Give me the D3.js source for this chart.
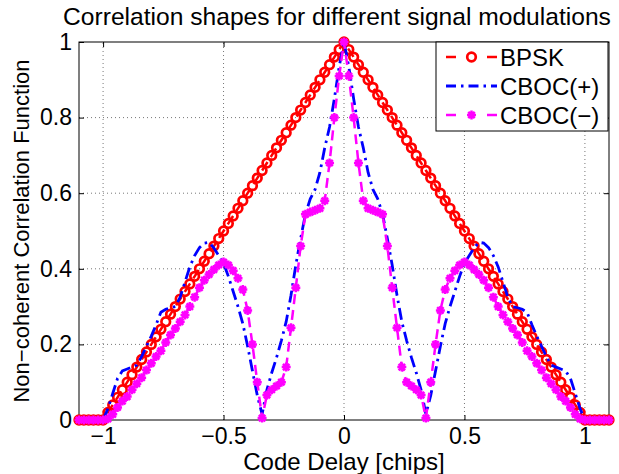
<!DOCTYPE html>
<html>
<head>
<meta charset="utf-8">
<script src="https://cdn.jsdelivr.net/npm/d3@7"></script>
<style>
  body { margin: 0; background: #fff; }
  text { font-family: "Liberation Sans", Arial, Helvetica, sans-serif; }
</style>
</head>
<body>
<div id="chart"></div>
<script>
// code delay in chips
const delay = [
  -1.1,-1.08,-1.06,-1.04,-1.02,-1,-0.98,-0.96,-0.94,-0.92,
  -0.9,-0.88,-0.86,-0.84,-0.82,-0.8,-0.78,-0.76,-0.74,-0.72,
  -0.7,-0.68,-0.66,-0.64,-0.62,-0.6,-0.58,-0.56,-0.54,-0.52,
  -0.5,-0.48,-0.46,-0.44,-0.42,-0.4,-0.38,-0.36,-0.34,-0.32,
  -0.3,-0.28,-0.26,-0.24,-0.22,-0.2,-0.18,-0.16,-0.14,-0.12,
  -0.1,-0.08,-0.06,-0.04,-0.02,0,0.02,0.04,0.06,0.08,
  0.1,0.12,0.14,0.16,0.18,0.2,0.22,0.24,0.26,0.28,
  0.3,0.32,0.34,0.36,0.38,0.4,0.42,0.44,0.46,0.48,
  0.5,0.52,0.54,0.56,0.58,0.6,0.62,0.64,0.66,0.68,
  0.7,0.72,0.74,0.76,0.78,0.8,0.82,0.84,0.86,0.88,
  0.9,0.92,0.94,0.96,0.98,1,1.02,1.04,1.06,1.08,
  1.1
];

const bpsk = [
  0,0,0,0,0,0,0.02,0.04,0.06,0.08,
  0.1,0.12,0.14,0.16,0.18,0.2,0.22,0.24,0.26,0.28,
  0.3,0.32,0.34,0.36,0.38,0.4,0.42,0.44,0.46,0.48,
  0.5,0.52,0.54,0.56,0.58,0.6,0.62,0.64,0.66,0.68,
  0.7,0.72,0.74,0.76,0.78,0.8,0.82,0.84,0.86,0.88,
  0.9,0.92,0.94,0.96,0.98,1,0.98,0.96,0.94,0.92,
  0.9,0.88,0.86,0.84,0.82,0.8,0.78,0.76,0.74,0.72,
  0.7,0.68,0.66,0.64,0.62,0.6,0.58,0.56,0.54,0.52,
  0.5,0.48,0.46,0.44,0.42,0.4,0.38,0.36,0.34,0.32,
  0.3,0.28,0.26,0.24,0.22,0.2,0.18,0.16,0.14,0.12,
  0.1,0.08,0.06,0.04,0.02,0,0,0,0,0,
  0
];

const cbocPlus = [
  0,0,0,0,0,0,0.03,0.07,0.11,0.13,
  0.135,0.14,0.145,0.168,0.195,0.222,0.252,0.285,0.293,0.297,
  0.3,0.325,0.365,0.405,0.435,0.456,0.468,0.47,0.455,0.435,
  0.415,0.38,0.34,0.3,0.255,0.195,0.13,0.065,0.015,0.08,
  0.125,0.165,0.21,0.26,0.33,0.41,0.48,0.545,0.585,0.61,
  0.655,0.72,0.775,0.85,0.935,1,0.935,0.85,0.775,0.72,
  0.655,0.61,0.585,0.545,0.48,0.41,0.33,0.26,0.21,0.165,
  0.125,0.08,0.015,0.065,0.13,0.195,0.255,0.3,0.34,0.38,
  0.415,0.435,0.455,0.47,0.468,0.456,0.435,0.405,0.365,0.325,
  0.3,0.297,0.293,0.285,0.252,0.222,0.195,0.168,0.145,0.14,
  0.135,0.13,0.11,0.07,0.03,0,0,0,0,0,
  0
];

const cbocMinus = [
  0,0,0,0,0,0,0.003,0.015,0.033,0.05,
  0.062,0.08,0.096,0.112,0.132,0.15,0.168,0.183,0.205,0.225,
  0.242,0.26,0.278,0.3,0.325,0.35,0.37,0.385,0.398,0.41,
  0.418,0.41,0.395,0.375,0.345,0.29,0.2,0.1,0.005,0.066,
  0.08,0.09,0.1,0.14,0.244,0.35,0.46,0.544,0.55,0.555,
  0.56,0.58,0.68,0.8,0.91,1,0.91,0.8,0.68,0.58,
  0.56,0.555,0.55,0.544,0.46,0.35,0.244,0.14,0.1,0.09,
  0.08,0.066,0.005,0.1,0.2,0.29,0.345,0.375,0.395,0.41,
  0.418,0.41,0.398,0.385,0.37,0.35,0.325,0.3,0.278,0.26,
  0.242,0.225,0.205,0.183,0.168,0.15,0.132,0.112,0.096,0.08,
  0.062,0.05,0.033,0.015,0.003,0,0,0,0,0,
  0
];

const xTicks = [-1, -0.5, 0, 0.5, 1];
const yTicks = [0, 0.2, 0.4, 0.6, 0.8, 1];
const seriesNames = ['BPSK', 'CBOC(+)', 'CBOC(\u2212)'];

const W = 619, H = 474;
const margin = { top: 42, right: 10, bottom: 54, left: 79 };

const svg = d3.select('#chart').append('svg')
  .attr('width', W)
  .attr('height', H);

const x = d3.scaleLinear().domain([-1.1, 1.1]).range([margin.left, W - margin.right]);
const y = d3.scaleLinear().domain([0, 1]).range([H - margin.bottom, margin.top]);

const fmt = d => d < 0 ? '\u2212' + Math.abs(d) : String(d);

// dotted grid
svg.append('g').selectAll('line')
  .data(xTicks)
  .join('line')
  .attr('x1', d => x(d)).attr('x2', d => x(d))
  .attr('y1', y(0)).attr('y2', y(1))
  .attr('stroke', '#777')
  .attr('stroke-dasharray', '1,3');

svg.append('g').selectAll('line')
  .data(yTicks.slice(1, -1))
  .join('line')
  .attr('x1', x(-1.1)).attr('x2', x(1.1))
  .attr('y1', d => y(d)).attr('y2', d => y(d))
  .attr('stroke', '#777')
  .attr('stroke-dasharray', '1,3');

// axes with inward ticks
const styleAxis = g => {
  g.select('.domain').remove();
  g.selectAll('.tick line').attr('stroke', '#000');
  g.selectAll('text').attr('fill', '#000').style('font-size', '23px');
};

svg.append('g')
  .attr('transform', `translate(0,${y(0)})`)
  .call(d3.axisBottom(x).tickValues(xTicks).tickSizeInner(-5).tickSizeOuter(0).tickPadding(8).tickFormat(fmt))
  .call(styleAxis);

svg.append('g')
  .attr('transform', `translate(0,${y(1)})`)
  .call(d3.axisTop(x).tickValues(xTicks).tickSizeInner(-5).tickSizeOuter(0).tickFormat(''))
  .call(styleAxis);

svg.append('g')
  .attr('transform', `translate(${x(-1.1)},0)`)
  .call(d3.axisLeft(y).tickValues(yTicks).tickSizeInner(-5).tickSizeOuter(0).tickPadding(7).tickFormat(fmt))
  .call(styleAxis);

svg.append('g')
  .attr('transform', `translate(${x(1.1)},0)`)
  .call(d3.axisRight(y).tickValues(yTicks).tickSizeInner(-5).tickSizeOuter(0).tickFormat(''))
  .call(styleAxis);

svg.append('rect')
  .attr('x', x(-1.1)).attr('y', y(1))
  .attr('width', x(1.1) - x(-1.1)).attr('height', y(0) - y(1))
  .attr('fill', 'none')
  .attr('stroke', '#000');

// series
const series = [
  { name: seriesNames[0], values: bpsk, color: '#ff0000', dash: '10,6', width: 2.5, marker: 'circle' },
  { name: seriesNames[1], values: cbocPlus, color: '#0000ff', dash: '12,5,2.5,5', width: 2.8, marker: null },
  { name: seriesNames[2], values: cbocMinus, color: '#ff00ff', dash: '10,6', width: 2.5, marker: 'star' }
];

const line = d3.line()
  .x((d, i) => x(delay[i]))
  .y(d => y(d));

const starPath = 'M-4.5,0H4.5M0,-4.5V4.5M-3.2,-3.2L3.2,3.2M-3.2,3.2L3.2,-3.2';

function drawMarker(g, kind, color) {
  if (kind === 'circle') {
    g.append('circle').attr('r', 4.3).attr('fill', 'none')
      .attr('stroke', color).attr('stroke-width', 2.7);
  } else if (kind === 'star') {
    g.append('path').attr('d', starPath).attr('fill', 'none')
      .attr('stroke', color).attr('stroke-width', 2.5);
  }
}

series.forEach(s => {
  svg.append('path')
    .datum(s.values)
    .attr('d', line)
    .attr('fill', 'none')
    .attr('stroke', s.color)
    .attr('stroke-width', s.width)
    .attr('stroke-dasharray', s.dash);

  if (s.marker) {
    svg.append('g').selectAll('g')
      .data(s.values)
      .join('g')
      .attr('transform', (d, i) => `translate(${x(delay[i])},${y(d)})`)
      .each(function() { drawMarker(d3.select(this), s.marker, s.color); });
  }
});

// legend
const legend = svg.append('g');
legend.append('rect')
  .attr('x', 436).attr('y', 42)
  .attr('width', 172).attr('height', 89)
  .attr('fill', '#fff')
  .attr('stroke', '#000');

series.forEach((s, i) => {
  const ly = 57 + i * 29;
  if (s.marker) {
    legend.append('line').attr('x1', 446).attr('x2', 456).attr('y1', ly).attr('y2', ly)
      .attr('stroke', s.color).attr('stroke-width', 2.5);
    legend.append('line').attr('x1', 487).attr('x2', 497).attr('y1', ly).attr('y2', ly)
      .attr('stroke', s.color).attr('stroke-width', 2.5);
    drawMarker(legend.append('g').attr('transform', `translate(471.5,${ly})`), s.marker, s.color);
  } else {
    legend.append('line').attr('x1', 446).attr('x2', 497).attr('y1', ly).attr('y2', ly)
      .attr('stroke', s.color).attr('stroke-width', s.width)
      .attr('stroke-dasharray', '10,5,2.5,5');
  }
  legend.append('text')
    .attr('x', 500).attr('y', ly)
    .attr('dy', '0.36em')
    .style('font-size', '24px')
    .text(s.name);
});

// titles
svg.append('text')
  .attr('x', 337)
  .attr('y', 25)
  .attr('text-anchor', 'middle')
  .style('font-size', '24.6px')
  .text('Correlation shapes for different signal modulations');

svg.append('text')
  .attr('x', (x(-1.1) + x(1.1)) / 2)
  .attr('y', 470)
  .attr('text-anchor', 'middle')
  .style('font-size', '24px')
  .text('Code Delay [chips]');

svg.append('text')
  .attr('transform', `translate(29,${(y(0) + y(1)) / 2}) rotate(-90)`)
  .attr('text-anchor', 'middle')
  .style('font-size', '22px')
  .text('Non\u2212coherent Correlation Function');
</script>
</body>
</html>
